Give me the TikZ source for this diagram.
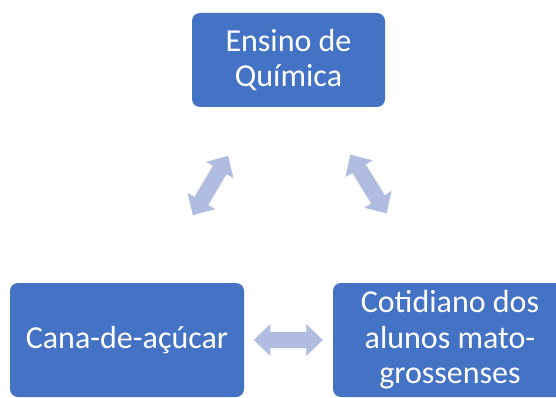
\documentclass[tikz,border=0pt]{standalone}
\usepackage{fontspec}
\setmainfont{Carlito}
\definecolor{boxblue}{HTML}{4472C4}
\definecolor{arrowblue}{HTML}{B0BDE0}
\tikzset{
  bluebox/.style={fill=boxblue, draw=none, rounded corners=8pt, inner sep=0pt,
    text=white, align=center,
    font=\fontsize{32}{35.5}\selectfont},
  blockarrow/.style={fill=arrowblue, draw=none}
}
\newcommand{\dblarrowshape}{(-34.5,0) -- (-18,16) -- (-18,8) -- (18,8) -- (18,16) -- (34.5,0) -- (18,-16) -- (18,-8) -- (-18,-8) -- (-18,-16) -- cycle}
\begin{document}
\begin{tikzpicture}[x=1pt,y=-1pt]
\useasboundingbox (0,0) rectangle (556,398);
\clip (0,0) rectangle (556,398);
\fill[white] (0,0) rectangle (556,398);
\node[bluebox, minimum width=193pt, minimum height=94pt] (quim) at (288.5,60) {Ensino de\\Química};
\node[bluebox, minimum width=234pt, minimum height=114pt] (cana) at (127,340) {Cana-de-açúcar};
\node[bluebox, minimum width=234pt, minimum height=114pt] (coti) at (450,340) {Cotidiano dos\\alunos mato-\\grossenses};
\coordinate (aL) at (210.5,185.5);
\coordinate (aR) at (368.5,184);
\coordinate (aB) at (288.3,340);
\begin{scope}[shift={(aL)}, rotate=59.3]
  \fill[blockarrow] \dblarrowshape;
\end{scope}
\begin{scope}[shift={(aR)}, rotate=-58.3]
  \fill[blockarrow] \dblarrowshape;
\end{scope}
\begin{scope}[shift={(aB)}]
  \fill[blockarrow] \dblarrowshape;
\end{scope}
\end{tikzpicture}
\end{document}
